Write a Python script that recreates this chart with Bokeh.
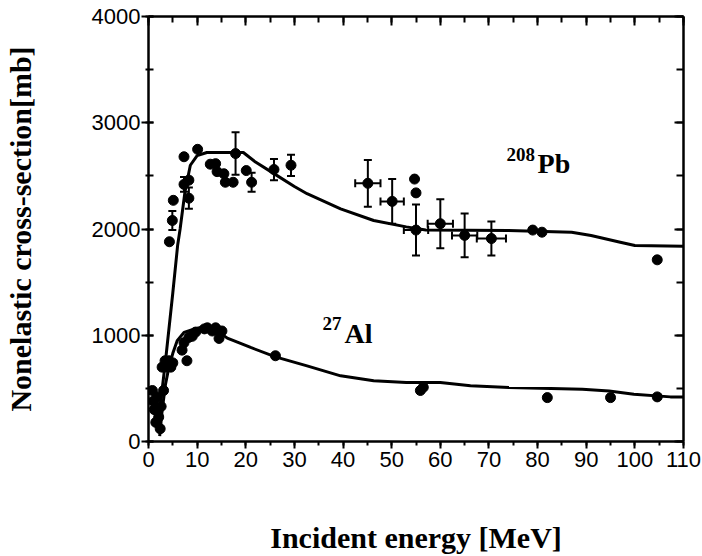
from bokeh.plotting import figure
from bokeh.models import (LinearAxis, Range1d, FixedTicker, Whisker, ColumnDataSource,
                          Label, TeeHead, CustomJSTickFormatter)
from bokeh.embed import file_html
from bokeh.resources import INLINE

# ---------------- data ----------------
# 208Pb measured points: energy [MeV], cross-section [mb], errors
pb_E     = [4.3, 4.9, 5.1, 7.3, 7.3, 8.3, 8.3, 10.1, 12.7, 13.8, 14.1, 15.5, 15.8, 17.4, 17.9,
            20.1, 21.2, 25.8, 29.3, 45.1, 50.1, 54.7, 55.0, 55.0, 60.0, 65.0, 70.5, 79.0, 80.9, 104.6]
pb_sigma = [1880, 2080, 2270, 2420, 2680, 2460, 2290, 2750, 2610, 2615, 2540, 2520, 2440, 2440, 2710,
            2550, 2440, 2560, 2600, 2430, 2260, 2470, 2340, 1990, 2050, 1940, 1910, 1990, 1970, 1710]
pb_yerr  = [0, 90, 0, 70, 0, 0, 100, 0, 0, 0, 0, 0, 0, 0, 200,
            0, 90, 100, 100, 220, 210, 0, 0, 240, 230, 205, 160, 0, 0, 0]
pb_xerr  = [0, 0, 0, 0, 0, 0, 0, 0, 0, 0, 0, 0, 0, 0, 0,
            0, 0, 0, 0, 2.6, 2.4, 0, 0, 2.5, 2.6, 2.6, 3.0, 0, 0, 0]

# 27Al measured points
al_E     = [0.8, 1.0, 1.2, 1.5, 1.8, 2.1, 2.4, 2.6, 2.8, 3.1, 3.4, 3.8, 4.2, 4.6, 5.0,
            6.9, 7.3, 7.9, 8.3, 9.0, 9.7, 11.5, 12.1, 13.1, 13.8, 14.1, 14.5, 14.8, 15.1,
            26.1, 55.9, 56.5, 82.0, 95.0, 104.6]
al_sigma = [480, 380, 300, 180, 420, 230, 120, 330, 700, 480, 760, 700, 760, 700, 740,
            860, 930, 760, 980, 990, 1030, 1060, 1070, 1040, 1070, 1050, 970, 1030, 1040,
            807, 480, 510, 413, 413, 420]

# calculated curves
pb_curve_E     = [1.8, 3.5, 5.0, 6.0, 6.5, 7.5, 8.6, 10.0, 12.0, 19.5, 22.0, 25.8, 30.0, 32.6,
                  39.5, 46.3, 53.0, 57.0, 74.0, 87.0, 91.0, 97.0, 100.0, 110.0]
pb_curve_sigma = [100, 760, 1400, 1850, 2000, 2350, 2600, 2690, 2720, 2720, 2630, 2521, 2400, 2332,
                  2190, 2080, 2020, 1990, 1986, 1970, 1939, 1876, 1844, 1838]

al_curve_E     = [2.3, 2.8, 3.5, 4.2, 5.0, 5.9, 7.3, 9.3, 12.1, 14.1, 16.2, 21.0, 26.1, 32.6,
                  39.5, 46.3, 53.0, 60.0, 66.2, 74.1, 89.2, 94.7, 99.8, 107.3, 110.0]
al_curve_sigma = [50, 290, 540, 700, 830, 948, 1027, 1058, 1090, 1042, 973, 885, 797, 712,
                  618, 571, 555, 555, 524, 508, 492, 476, 445, 420, 420]

x_ticks = [0, 10, 20, 30, 40, 50, 60, 70, 80, 90, 100, 110]
x_minor = [0, 5, 10, 15, 20, 25, 30, 35, 40, 45, 50, 55, 60, 65, 70, 75, 80, 85, 90, 95, 100, 105, 110]
y_ticks = [0, 1000, 2000, 3000, 4000]
y_minor = [0, 500, 1000, 1500, 2000, 2500, 3000, 3500, 4000]

# ---------------- figure ----------------
p = figure(width=702, height=556, output_backend="svg", toolbar_location=None,
           x_range=Range1d(0, 110), y_range=Range1d(0, 4000),
           min_border_left=148, min_border_right=19, min_border_top=16, min_border_bottom=115)
p.grid.visible = False
p.outline_line_color = None
p.background_fill_color = "white"
p.border_fill_color = "white"

SERIF = "Liberation Serif"
SANS = "Liberation Sans"

xa = p.xaxis[0]
xa.ticker = FixedTicker(ticks=x_ticks, minor_ticks=x_minor)
xa.axis_label = "Incident energy [MeV]"
ya = p.yaxis[0]
ya.ticker = FixedTicker(ticks=y_ticks, minor_ticks=y_minor)
ya.axis_label = "Nonelastic cross-section[mb]"

for ax in (xa, ya):
    ax.axis_line_width = 2.5
    ax.major_tick_line_width = 2
    ax.minor_tick_line_width = 2
    ax.major_label_text_font = SANS
    ax.major_label_text_font_size = "22px"
    ax.major_label_text_color = "black"
    ax.axis_label_text_font = SERIF
    ax.axis_label_text_font_style = "bold"
    ax.axis_label_text_font_size = "30px"
    ax.axis_label_text_color = "black"

xa.major_tick_in = 0
xa.major_tick_out = 7
xa.minor_tick_in = 0
xa.minor_tick_out = 4
xa.major_label_standoff = 3
xa.axis_label_standoff = 51

ya.major_tick_in = 5
ya.major_tick_out = 7
ya.minor_tick_in = 5
ya.minor_tick_out = 3
ya.major_label_standoff = 1
ya.axis_label_standoff = 52

blank = CustomJSTickFormatter(code="return ''")
top = LinearAxis(ticker=FixedTicker(ticks=x_ticks, minor_ticks=x_minor), formatter=blank,
                 major_tick_in=9, major_tick_out=0, minor_tick_in=6, minor_tick_out=0,
                 axis_line_width=2.5, major_tick_line_width=2, minor_tick_line_width=2,
                 major_label_standoff=0)
right = LinearAxis(ticker=FixedTicker(ticks=y_ticks, minor_ticks=y_minor), formatter=blank,
                   major_tick_in=9, major_tick_out=0, minor_tick_in=7, minor_tick_out=0,
                   axis_line_width=2.5, major_tick_line_width=2, minor_tick_line_width=2,
                   major_label_standoff=0)
p.add_layout(top, "above")
p.add_layout(right, "right")

# ---------------- curves ----------------
p.line(pb_curve_E, pb_curve_sigma, line_color="black", line_width=3)
p.line(al_curve_E, al_curve_sigma, line_color="black", line_width=3)

# ---------------- error bars ----------------
ey = [i for i, e in enumerate(pb_yerr) if e > 0]
src_y = ColumnDataSource(dict(x=[pb_E[i] for i in ey],
                              lower=[pb_sigma[i] - pb_yerr[i] for i in ey],
                              upper=[pb_sigma[i] + pb_yerr[i] for i in ey]))
p.add_layout(Whisker(source=src_y, base="x", lower="lower", upper="upper", dimension="height",
                     line_width=2, line_color="black",
                     lower_head=TeeHead(size=8, line_width=2),
                     upper_head=TeeHead(size=8, line_width=2)))
ex = [i for i, e in enumerate(pb_xerr) if e > 0]
src_x = ColumnDataSource(dict(y=[pb_sigma[i] for i in ex],
                              lower=[pb_E[i] - pb_xerr[i] for i in ex],
                              upper=[pb_E[i] + pb_xerr[i] for i in ex]))
p.add_layout(Whisker(source=src_x, base="y", lower="lower", upper="upper", dimension="width",
                     line_width=2, line_color="black",
                     lower_head=TeeHead(size=8, line_width=2),
                     upper_head=TeeHead(size=8, line_width=2)))

# ---------------- points ----------------
p.scatter(pb_E, pb_sigma, size=10, marker="circle", color="black")
p.scatter(al_E, al_sigma, size=10, marker="circle", color="black")

# ---------------- annotations ----------------
p.add_layout(Label(x=73.6, y=2700, text="208", text_font=SERIF, text_font_style="bold",
                   text_font_size="19px", text_color="black", text_baseline="alphabetic"))
p.add_layout(Label(x=80.0, y=2618, text="Pb", text_font=SERIF, text_font_style="bold",
                   text_font_size="28px", text_color="black", text_baseline="alphabetic"))
p.add_layout(Label(x=35.8, y=1106, text="27", text_font=SERIF, text_font_style="bold",
                   text_font_size="19px", text_color="black", text_baseline="alphabetic"))
p.add_layout(Label(x=40.3, y=1014, text="Al", text_font=SERIF, text_font_style="bold",
                   text_font_size="28px", text_color="black", text_baseline="alphabetic"))

open("out.html", "w").write(file_html(p, INLINE))
